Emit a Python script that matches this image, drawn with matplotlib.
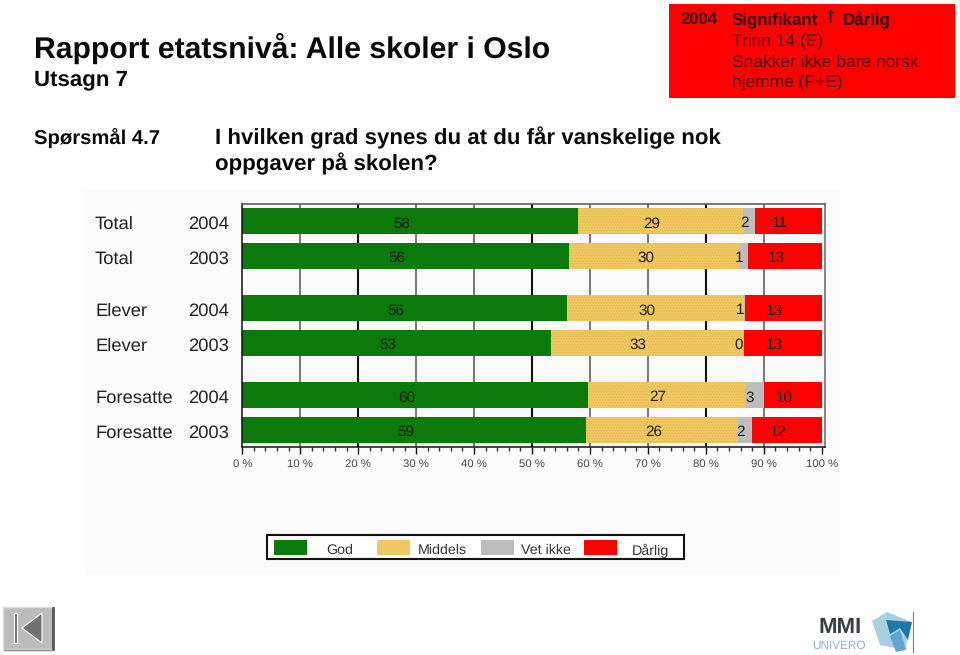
# Rapport etatsnivå - stacked bars, god / middels / vet ikke / dårlig
import matplotlib
matplotlib.use("Agg")
import matplotlib.pyplot as plt
from matplotlib.patches import Rectangle, Polygon
from matplotlib.transforms import blended_transform_factory

plt.rcParams['font.family'] = ['Liberation Sans', 'DejaVu Sans']
plt.rcParams['hatch.linewidth'] = 0.5
plt.rcParams['text.hinting'] = 'no_hinting'

# DATA
groups = ["Total", "Total", "Elever", "Elever", "Foresatte", "Foresatte"]
years = ["2004", "2003", "2004", "2003", "2004", "2003"]
rows = [0, 1, 2.5, 3.5, 5, 6]

god = [58.0, 56.3, 56.0, 53.2, 59.6, 59.4]
middels = [28.4, 29.6, 30.6, 33.3, 27.2, 26.2]
vet_ikke = [2.1, 1.3, 0.2, 0.1, 3.2, 2.4]
darlig = [11.5, 12.8, 13.2, 13.4, 10.0, 12.0]

god_labels = ["58", "56", "56", "53", "60", "59"]
middels_labels = ["29", "30", "30", "33", "27", "26"]
vet_ikke_labels = ["2", "1", "1", "0", "3", "2"]
darlig_labels = ["11", "13", "13", "13", "10", "12"]

legend_names = ["God", "Middels", "Vet ikke", "Dårlig"]
x_ticks = [0, 10, 20, 30, 40, 50, 60, 70, 80, 90, 100]
x_minor = [i for i in range(0, 101, 2)]

GREEN = "#0b7a0b"
YELLOW = "#f0c860"
GREY = "#bdbdbd"
RED = "#ff0000"
TXT = "#222222"

W, H = 960, 655
fig = plt.figure(figsize=(W / 100, H / 100), dpi=100, facecolor="white")

# overlay in pixel coordinates for everything around the chart
bg = fig.add_axes([0, 0, 1, 1], zorder=0)
bg.set_xlim(0, W)
bg.set_ylim(H, 0)
bg.axis("off")
bg.add_patch(Rectangle((85, 190), 755, 385, fc="#fbfbfb", ec="none"))

top = fig.add_axes([0, 0, 1, 1], zorder=3)
top.set_xlim(0, W)
top.set_ylim(H, 0)
top.axis("off")
top.patch.set_alpha(0)

# CHART
left, right, ytop, ybot = 242.3, 825.0, 204.0, 446.7
ax = fig.add_axes([left / W, 1 - ybot / H, (right - left) / W, (ybot - ytop) / H], zorder=2)
ax.patch.set_alpha(0)

for t in x_ticks[1:-1]:
    dark = t in (20, 50, 80)
    ax.axvline(t, color="#111111" if dark else "#555555", lw=1.5 if dark else 1.1, zorder=1)

h = 0.73
start = [0] * len(rows)
series = [
    (god, GREEN, god_labels, -1.5),
    (middels, YELLOW, middels_labels, -1.5),
    (vet_ikke, GREY, vet_ikke_labels, -0.8),
    (darlig, RED, darlig_labels, -1.5),
]
for values, color, labels, shift in series:
    if color == YELLOW:
        ax.barh(rows, values, left=start, height=h, color=color, edgecolor="#e6b850",
                hatch="......", lw=0, zorder=2)
    else:
        ax.barh(rows, values, left=start, height=h, color=color, lw=0, zorder=2)
    for i, v in enumerate(values):
        ax.text(start[i] + v / 2 + shift, rows[i] + 0.07, labels[i], ha="center", va="center",
                fontsize=11, color="#1c1c10", zorder=4)
    start = [s + v for s, v in zip(start, values)]

ax.set_xlim(0, 100.57)
ax.set_ylim(6.48, -0.49)
ax.set_yticks([])
ax.set_xticks(x_ticks)
ax.set_xticklabels([f"{t} %" for t in x_ticks], fontsize=8.2, color="#444444")
ax.set_xticks(x_minor, minor=True)
ax.tick_params(axis="x", which="major", length=5, width=1, color="#111111", pad=4)
ax.tick_params(axis="x", which="minor", length=3, width=1, color="#333333")
ax.spines["left"].set_color("#111111")
ax.spines["bottom"].set_color("#111111")
ax.spines["top"].set_color("#555555")
ax.spines["right"].set_color("#666666")
for s in ax.spines.values():
    s.set_linewidth(1.1)

# row labels sit left of the axis
tr = blended_transform_factory(top.transData, ax.transData)
for i, r in enumerate(rows):
    top.text(95, r + 0.09, groups[i], transform=tr, ha="left", va="center", fontsize=13.2, color=TXT)
    top.text(188, r + 0.09, years[i], transform=tr, ha="left", va="center", fontsize=13.2, color=TXT)

# LEGEND
top.add_patch(Rectangle((266.7, 535), 417.6, 24.3, fc="white", ec="#111111", lw=1.5))
swatch_x = [274, 377, 481, 584]
text_x = [326.7, 418, 520.7, 631.7]
for sx, tx, name, color in zip(swatch_x, text_x, legend_names, [GREEN, YELLOW, GREY, RED]):
    top.add_patch(Rectangle((sx, 540), 32.5, 14.7, fc=color, ec="none"))
    top.text(tx, 550.5, name, ha="left", va="center", fontsize=10.3, color="#333333")

# HEADER
top.text(34, 48, "Rapport etatsnivå: Alle skoler i Oslo", ha="left", va="center",
         fontsize=21.7, color="#0a0a0a", fontweight="bold")
top.text(34, 80, "Utsagn 7", ha="left", va="center", fontsize=16, color="#0a0a0a", fontweight="bold")
top.text(34, 138, "Spørsmål 4.7", ha="left", va="center", fontsize=14.6, color="#0a0a0a", fontweight="bold")
top.text(215, 138, "I hvilken grad synes du at du får vanskelige nok", ha="left", va="center",
         fontsize=16.05, color="#0a0a0a", fontweight="bold")
top.text(215, 164, "oppgaver på skolen?", ha="left", va="center",
         fontsize=16.05, color="#0a0a0a", fontweight="bold")

# red box top right
top.add_patch(Rectangle((669, 4.3), 286, 93.4, fc=RED, ec="none"))
top.text(680, 20, "2004", ha="left", va="center", fontsize=12, fontweight="bold", color="#300000")
top.text(732, 20, "Signifikant", ha="left", va="center", fontsize=12.2, fontweight="bold", color="#300000")
top.text(830, 18, "↑", ha="center", va="center", fontsize=13, family=["DejaVu Sans"], color="#300000")
top.text(843, 20, "Dårlig", ha="left", va="center", fontsize=12.2, fontweight="bold", color="#300000")
top.text(732, 41, "Trinn 14 (E)", ha="left", va="center", fontsize=12.5, color="#480000")
top.text(732, 62, "Snakker ikke bare norsk", ha="left", va="center", fontsize=12.5, color="#480000")
top.text(732, 82, "hjemme (F+E)", ha="left", va="center", fontsize=12.5, color="#480000")

# nav button bottom left
top.add_patch(Rectangle((3, 607), 50, 42, fc="#bcbcbc", ec="#dddddd", lw=1))
top.plot([53, 53], [608, 649], color="#555555", lw=2)
top.plot([4, 52], [649.5, 649.5], color="#888888", lw=1)
top.add_patch(Rectangle((14, 613), 3, 30, fc="#707070", ec="white", lw=0.8))
top.add_patch(Polygon([(22, 628), (42, 613), (42, 643)], fc="#707070", ec="white", lw=0.8))

# logo bottom right
top.text(819, 627, "MMI", ha="left", va="center", fontsize=16, fontweight="bold", color="#3a3f45")
top.text(812, 646, "UNIVERO", ha="left", va="center", fontsize=8.5, color="#8fb4c8")
top.add_patch(Polygon([(872, 621), (887, 612), (912, 622), (905, 650), (880, 645)], fc="#a9d0e2", ec="none"))
top.add_patch(Polygon([(886, 620), (912, 622), (908, 640), (900, 628), (890, 634)], fc="#1f77a8", ec="none"))
top.add_patch(Polygon([(890, 636), (900, 630), (906, 650), (896, 652)], fc="#5fa6cc", ec="none"))
top.plot([912.5, 912.5], [612, 652], color="#777777", lw=0.8)

fig.savefig("out.png", dpi=100)
